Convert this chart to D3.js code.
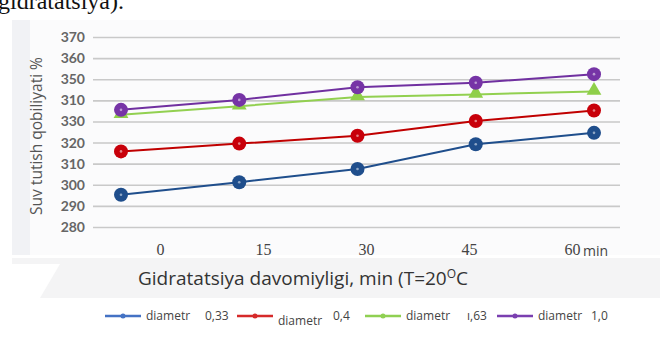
<!DOCTYPE html>
<html><head><meta charset="utf-8">
<script src="https://cdn.jsdelivr.net/npm/d3@7"></script>
<style>body{margin:0;background:#fff}svg{display:block}</style>
</head><body>
<svg id="c" width="668" height="338"></svg>
<script>
const categories = ["0", "15", "30", "45", "60"];
const yTickValues = [280, 290, 300, 310, 320, 330, 340, 350, 360, 370];
const yTickLabels = ["280", "290", "300", "310", "320", "330", "310", "350", "360", "370"];
const seriesNames = ["diametr 0,33", "diametr 0,4", "diametr ı,63", "diametr 1,0"];
const blueValues = [295.3, 301.2, 307.5, 319.2, 324.6];
const redValues = [315.8, 319.5, 323.2, 330.2, 335.2];
const greenValues = [333.2, 337.2, 341.6, 342.8, 344.2];
const purpleValues = [335.5, 340.2, 346.2, 348.3, 352.4];

const svg = d3.select("#c");
// background scan tint
svg.append("rect").attr("x", 12).attr("y", 20).attr("width", 648).attr("height", 235).attr("fill", "#fbfbfc");
svg.append("rect").attr("x", 12).attr("y", 20).attr("width", 18).attr("height", 235).attr("fill", "#f1f2f5");
svg.append("rect").attr("x", 12).attr("y", 258).attr("width", 648).attr("height", 40).attr("fill", "#f4f4f5");
svg.append("path").attr("d", "M12,264 L60,264 L40,298 L12,298 Z").attr("fill", "#fff");

// clipped caption from page above
svg.append("text").attr("x", -2).attr("y", 9).attr("font-family", "Liberation Serif, serif")
  .attr("font-size", 24).attr("fill", "#111").text("gidratatsiya).");

const y = d3.scaleLinear().domain([280, 370]).range([227, 37]);
const x = d3.scalePoint().domain(categories).range([121, 594]);
const xLabel = d3.scalePoint().domain(categories).range([160, 572]);

// gridlines
const grid = svg.append("g").attr("transform", "translate(93,0)")
  .call(d3.axisLeft(y).tickValues(yTickValues).tickSize(-527).tickFormat(""));
grid.select(".domain").remove();
grid.selectAll("line").attr("stroke", "#c9c9c9").attr("stroke-width", 1.6);

// y tick labels
const ya = svg.append("g").attr("transform", "translate(90,0)")
  .call(d3.axisLeft(y).tickValues(yTickValues).tickSize(0)
    .tickFormat((d, i) => yTickLabels[i]));
ya.select(".domain").remove();
ya.selectAll("text").attr("font-family", "Lato, sans-serif").attr("font-size", 14)
  .attr("font-weight", "bold").attr("fill", "#666").attr("dx", "-2");

// x tick labels (offset from the points, as in the reference)
const xa = svg.append("g").attr("transform", "translate(0,238)")
  .call(d3.axisBottom(xLabel).tickSize(0));
xa.select(".domain").remove();
xa.selectAll("text").attr("font-family", "Liberation Serif, serif").attr("font-size", 16)
  .attr("fill", "#444").attr("dy", "0.9em");
svg.append("text").attr("x", 583).attr("y", 256).attr("font-family", "Open Sans, sans-serif")
  .attr("font-size", 14).attr("fill", "#444").text("min");

// axis titles
svg.append("text").attr("transform", "translate(42,136) rotate(-90)").attr("text-anchor", "middle")
  .attr("font-family", "Open Sans, sans-serif").attr("font-size", 15.5).attr("fill", "#555")
  .text("Suv tutish qobiliyati %");
const xt = svg.append("text").attr("x", 138).attr("y", 285).attr("font-family", "Open Sans, sans-serif")
  .attr("font-size", 19).attr("fill", "#333");
xt.append("tspan").text("Gidratatsiya davomiyligi, min (T=20");
xt.append("tspan").attr("dy", -7).attr("font-size", 12).text("O");
xt.append("tspan").attr("dy", 7).text("C");

const series = [
  {name: seriesNames[0], values: blueValues, line: "#1f4e8c", marker: "#1f4e8c", leg: "#4472c4", shape: "circle"},
  {name: seriesNames[1], values: redValues, line: "#c00000", marker: "#c8000a", leg: "#d62a2a", shape: "circle"},
  {name: seriesNames[2], values: greenValues, line: "#92d050", marker: "#8fcf4a", leg: "#8fd052", shape: "triangle"},
  {name: seriesNames[3], values: purpleValues, line: "#7030a0", marker: "#7634a6", leg: "#7a3fb0", shape: "circle"}
];

const line = d3.line().x((d, i) => x(categories[i])).y(d => y(d));
series.forEach(s => {
  svg.append("path").datum(s.values).attr("d", line).attr("fill", "none")
    .attr("stroke", s.line).attr("stroke-width", 2);
  const g = svg.append("g");
  s.values.forEach((v, i) => {
    const cx = x(categories[i]), cy = y(v);
    if (s.shape === "circle") {
      g.append("circle").attr("cx", cx).attr("cy", cy).attr("r", 7).attr("fill", s.marker);
      g.append("circle").attr("cx", cx).attr("cy", cy).attr("r", 1.3).attr("fill", "#fff").attr("opacity", 0.5);
    } else {
      g.append("path").attr("d", d3.symbol(d3.symbolTriangle, 95)())
        .attr("transform", `translate(${cx},${cy - 1})`).attr("fill", s.marker);
    }
  });
});

// legend
const legX = [105, 237, 365, 497];
const legTxt = [["diametr", "0,33", 0], ["diametr", "0,4", 5], ["diametr", "ı,63", 0], ["diametr", "1,0", 0]];
const numOff = [100, 96, 102, 94];
series.forEach((s, i) => {
  const lx = legX[i], ly = 316;
  svg.append("line").attr("x1", lx).attr("x2", lx + 36).attr("y1", ly).attr("y2", ly)
    .attr("stroke", s.leg).attr("stroke-width", 2.5);
  svg.append("circle").attr("cx", lx + 18).attr("cy", ly).attr("r", 2.5).attr("fill", s.leg);
  svg.append("text").attr("x", lx + 41).attr("y", ly + 4 + legTxt[i][2]).attr("font-family", "Open Sans, sans-serif")
    .attr("font-size", 12).attr("fill", "#444").text(legTxt[i][0]);
  svg.append("text").attr("x", lx + numOff[i]).attr("y", ly + 4).attr("font-family", "Open Sans, sans-serif")
    .attr("font-size", 12).attr("fill", "#444").text(legTxt[i][1]);
});
</script>
</body></html>
